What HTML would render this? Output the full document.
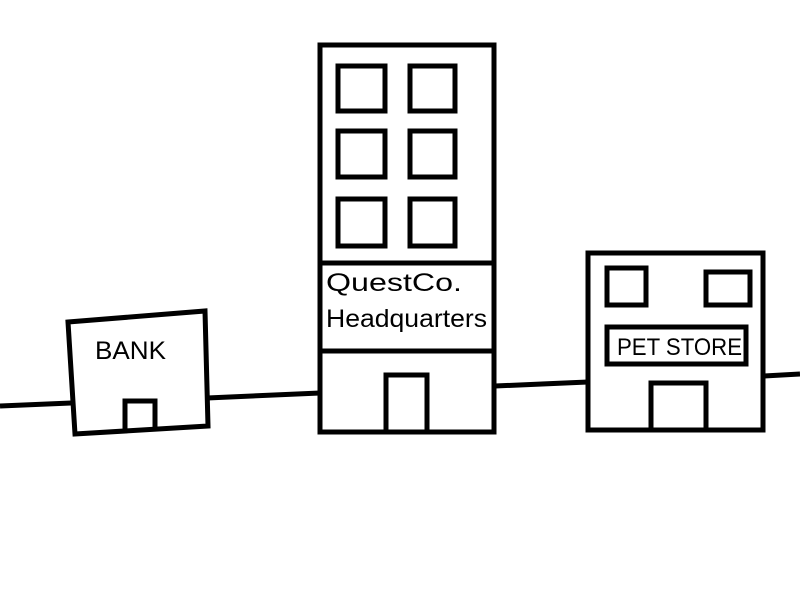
<!DOCTYPE html>
<html><head><style>body{margin:0;background:#fff}svg{display:block}</style></head>
<body>
<svg width="800" height="600" viewBox="0 0 800 600" xmlns="http://www.w3.org/2000/svg" font-family="Liberation Sans, sans-serif">
<g stroke="#000" stroke-width="5" fill="none">
<line x1="0" y1="406" x2="71" y2="403"/>
<line x1="207" y1="398" x2="320" y2="393"/>
<line x1="495" y1="386" x2="588" y2="382"/>
<line x1="764" y1="376" x2="800" y2="374"/>
<polygon points="68,322 205,311 208,426 75,434" fill="#fff"/>
<polyline points="125,430 125,401 155,401 155,428"/>
<rect x="320" y="45" width="174" height="387" fill="#fff"/>
<line x1="320" y1="263" x2="494" y2="263"/>
<line x1="320" y1="351" x2="494" y2="351"/>
<rect x="338" y="66" width="47" height="45"/>
<rect x="410" y="66" width="45" height="45"/>
<rect x="338" y="131" width="47" height="46"/>
<rect x="410" y="131" width="45" height="46"/>
<rect x="338" y="199" width="47" height="47"/>
<rect x="410" y="199" width="45" height="47"/>
<polyline points="386,430 386,375 427,375 427,430"/>
<rect x="588" y="253" width="175" height="177" fill="#fff"/>
<rect x="607" y="268" width="39" height="37"/>
<rect x="706" y="272" width="44" height="33"/>
<rect x="607" y="327" width="139" height="37"/>
<polyline points="651,430 651,383 706,383 706,430"/>
</g>
<g fill="#000" font-size="25">
<text x="95" y="359" textLength="71" lengthAdjust="spacingAndGlyphs">BANK</text>
<text x="326" y="291" textLength="136" lengthAdjust="spacingAndGlyphs">QuestCo.</text>
<text x="326" y="327" textLength="161" lengthAdjust="spacingAndGlyphs">Headquarters</text>
<text x="617" y="355" font-size="24" textLength="125" lengthAdjust="spacingAndGlyphs">PET STORE</text>
</g>
</svg>
</body></html>
